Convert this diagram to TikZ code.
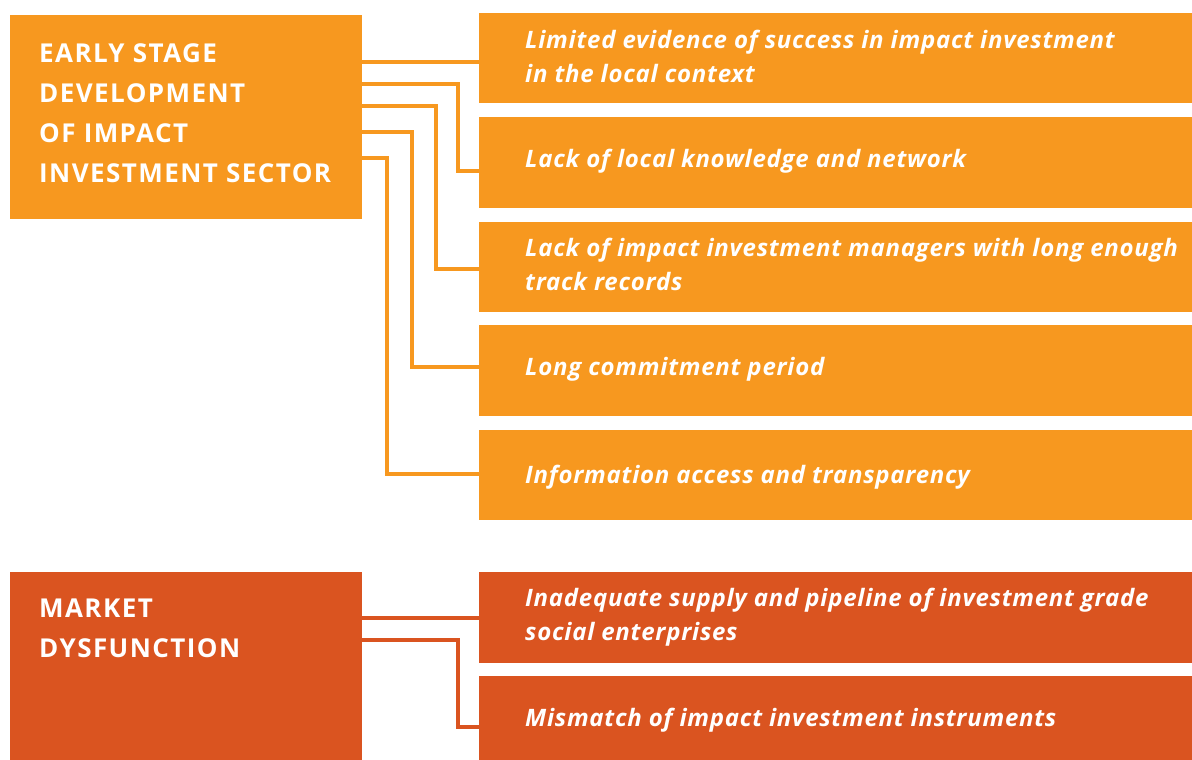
\documentclass[tikz,border=0pt]{standalone}
\usepackage{fontspec}
\setmainfont{Open Sans}
\newfontfamily\headfont[LetterSpace=5.5]{Open Sans}
\newfontfamily\itemfont[LetterSpace=3.1]{Open Sans}
\definecolor{orangeA}{HTML}{F7981F}
\definecolor{redA}{HTML}{DA5420}
\begin{document}
\begin{tikzpicture}[x=1pt,y=-1pt,
  lbox/.style={draw=none,fill=#1,minimum width=352,minimum height=204,anchor=north west,inner sep=0},
  rbox/.style={draw=none,fill=#1,minimum width=713,anchor=north west,inner sep=0},
  ltext/.style={text=white,font=\headfont\bfseries\fontsize{26}{40}\selectfont,align=left,anchor=north west,inner sep=0},
  rtext/.style={text=white,font=\itemfont\bfseries\itshape\fontsize{24}{34}\selectfont,align=left,anchor=west,inner sep=0},
  conn/.style={draw=#1,line width=4pt}]
\useasboundingbox[fill=white] (0,0) rectangle (1192,760);
% top group
\node[lbox=orangeA] (L1) at (10,15) {};
\node[ltext] (L1t) at (39,43) {EARLY STAGE\\DEVELOPMENT\\OF IMPACT\\INVESTMENT SECTOR};
\node[rbox=orangeA,minimum height=90] (b1) at (479,13) {};
\node[rbox=orangeA,minimum height=91] (b2) at (479,117) {};
\node[rbox=orangeA,minimum height=90] (b3) at (479,222) {};
\node[rbox=orangeA,minimum height=91] (b4) at (479,325) {};
\node[rbox=orangeA,minimum height=90] (b5) at (479,430) {};
\node[rtext] (t1) at (525,56) {Limited evidence of success in impact investment\\in the local context};
\node[rtext] (t2) at (525,161) {Lack of local knowledge and network};
\node[rtext] (t3) at (525,264) {Lack of impact investment managers with long enough\\track records};
\node[rtext] (t4) at (525,369) {Long commitment period};
\node[rtext] (t5) at (525,477) {Information access and transparency};
\coordinate (y1) at (0,62);
\coordinate (y2) at (0,84);
\coordinate (y3) at (0,106);
\coordinate (y4) at (0,132);
\coordinate (y5) at (0,158);
\coordinate (e2) at (0,171);
\coordinate (e3) at (0,269);
\coordinate (e4) at (0,367);
\coordinate (e5) at (0,474);
\draw[conn=orangeA] (L1.east |- y1) -- (b1.west |- y1);
\draw[conn=orangeA] (L1.east |- y2) -- (458,84) -- (458,171) -- (b2.west |- e2);
\draw[conn=orangeA] (L1.east |- y3) -- (436,106) -- (436,269) -- (b3.west |- e3);
\draw[conn=orangeA] (L1.east |- y4) -- (412,132) -- (412,367) -- (b4.west |- e4);
\draw[conn=orangeA] (L1.east |- y5) -- (387,158) -- (387,474) -- (b5.west |- e5);
% bottom group
\node[lbox=redA,minimum height=188] (L2) at (10,572) {};
\node[ltext] (L2t) at (39,599) {MARKET\\DYSFUNCTION};
\node[rbox=redA,minimum height=91] (b6) at (479,572) {};
\node[rbox=redA,minimum height=84] (b7) at (479,676) {};
\node[rtext] (t6) at (525,617) {Inadequate supply and pipeline of investment grade\\social enterprises};
\node[rtext] (t7) at (525,720) {Mismatch of impact investment instruments};
\coordinate (y6) at (0,618);
\coordinate (y7) at (0,640);
\coordinate (e7) at (0,727);
\draw[conn=redA] (L2.east |- y6) -- (b6.west |- y6);
\draw[conn=redA] (L2.east |- y7) -- (458,640) -- (458,727) -- (b7.west |- e7);
\end{tikzpicture}
\end{document}
